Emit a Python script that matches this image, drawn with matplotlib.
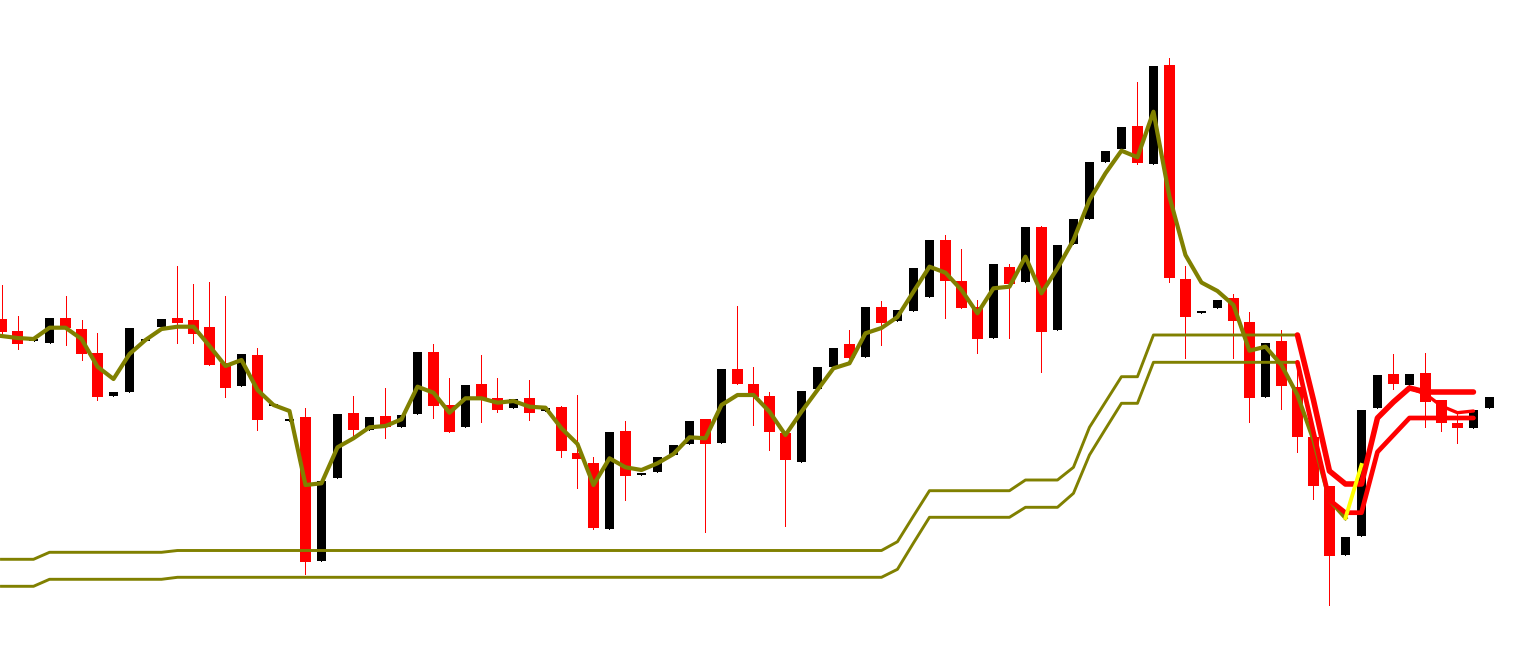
import matplotlib
matplotlib.use("Agg")
import matplotlib.pyplot as plt
import numpy as np

# ---- candle data (arbitrary price units) ----
opens = [327, 315, 305, 303, 328, 317, 293, 250, 254, 305,
         319, 328, 326, 319, 283, 260, 291, 240, 225, 229,
         85, 168, 233, 216, 230, 219, 232, 294, 241, 219,
         262, 248, 238, 248, 235, 239, 193, 183, 117, 215,
         171.5, 174, 191, 202, 227, 203, 277, 262, 250, 213,
         184, 257, 279, 302, 289, 339, 325, 335, 349, 406,
         365, 339, 308, 379, 364, 419, 316, 402, 427, 484,
         497, 520, 482, 581, 367, 333, 338, 348, 324, 249,
         305, 259, 209, 160, 91, 110, 238, 272, 261, 273,
         246, 223, 218, 238]
closes = [314, 302, 307, 328, 318, 292, 249, 254, 318, 307,
          327, 323, 312, 281, 258, 292, 226, 242, 227, 84,
          165, 232, 216, 229, 219, 231, 294, 240, 214, 261,
          248, 236, 247, 233, 238, 195, 187, 118, 214, 170,
          173, 189, 201, 225, 202, 277, 262, 249, 214, 186,
          255, 279, 298, 288, 339, 323, 336, 378, 406, 365,
          338, 307, 382, 362, 419, 314, 401, 427, 484, 495,
          519, 483, 580, 368, 329, 335, 346, 325, 248, 303,
          260, 209, 160, 90, 109, 236, 271, 262, 272, 244,
          223, 218, 236, 249]
highs = [361, 330, 307, 328, 350, 326, 313, 254, 318, 307,
         327, 380, 362, 364, 350, 292, 298, 242, 227, 238,
         165, 232, 250, 229, 258, 231, 294, 302, 268, 261,
         291, 268, 247, 266, 238, 240, 251, 189, 214, 225,
         173, 189, 201, 225, 227, 277, 340, 279, 254, 214,
         255, 279, 298, 316, 339, 345, 336, 378, 406, 411,
         397, 346, 382, 382, 419, 420, 401, 427, 484, 495,
         519, 564, 580, 588, 380, 335, 346, 352, 334, 303,
         316, 284, 209, 160, 109, 236, 271, 292, 272, 293,
         246, 233, 236, 249]
lows = [311, 297, 305, 303, 301, 286, 246, 250, 254, 305,
        319, 303, 303, 281, 249, 260, 216, 240, 225, 72,
        85, 168, 209, 216, 208, 219, 232, 228, 214, 219,
        224, 234, 238, 226, 235, 189, 158, 117, 117, 146,
        171.5, 174, 191, 202, 114, 203, 262, 221, 196, 120,
        184, 257, 279, 288, 289, 301, 325, 335, 349, 328,
        338, 293, 308, 308, 364, 274, 316, 402, 427, 484,
        497, 482, 482, 364, 288, 333, 338, 288, 224, 249,
        237, 194, 147, 41, 91, 110, 238, 257, 261, 219,
        215, 203, 218, 238]

# moving average (indices 0..84)
ma = [310, 308, 307, 318.3, 318.3, 307, 279.3, 267, 292, 306,
      317, 319.3, 319.3, 300, 280, 286, 256, 241, 235, 161,
      162.7, 198.7, 207.7, 218.7, 220, 226.7, 259.3, 253.3, 233.3, 247.7,
      247.7, 243.3, 245, 239.3, 238.3, 217.7, 202, 161, 187.7, 178.7,
      176, 182.7, 192, 208.7, 207.7, 241, 251, 251, 234.3, 211,
      234.3, 256, 277.7, 282.7, 312.7, 318, 329, 354.3, 379.3, 373.3,
      356, 332.7, 357.7, 359.3, 389.3, 352.7, 377.7, 406, 446, 472.7,
      495.3, 488.7, 534.3, 449.3, 391, 363.5, 355, 341, 295.3, 299.3,
      281, 251, 206, 146, 128]

# envelope (indices 0..81)
env_upper = [86.7] * 3 + [93.7] * 8 + [95.5] * 45 + [104.3, 130] + [155.3] * 6 \
    + [166] * 3 + [178.7, 218.7, 244, 269.3, 269.3] + [311] * 10
env_lower = [59.7] * 3 + [66.7] * 8 + [68.7] * 45 + [76.7, 103] + [128.7] * 6 \
    + [138.7] * 3 + [152.7, 191, 217, 242.7, 242.7] + [283.7] * 10

# projection lines (indices 81..92)
proj_start = 81
proj_a = [311, 246, 175, 162, 162, 228, 244, 258, 254, 254, 254, 254]
proj_b = [283.7, 214, 146, 133.3, 133.3, 194, 211, 228, 228, 228, 228, 228]
proj_c = [311, 246, 175, 162, 162, 228, 244, 258, 252, 240, 233.3, 235]
# yellow segment (indices 84..85)
yellow_start = 84
yellow = [128, 181]

# ---- figure ----
fig = plt.figure(figsize=(15.4, 6.46), dpi=100)
ax = fig.add_axes([0, 0, 1, 1])
ax.set_xlim(-0.094, 96.16)
ax.set_ylim(0, 646)
ax.axis("off")

n = len(opens)
x = np.arange(n)
o = np.array(opens, float)
c = np.array(closes, float)
h = np.array(highs, float)
l = np.array(lows, float)
bull = c >= o

# wicks
for i in range(n):
    col = "black" if bull[i] else "red"
    ax.vlines(x[i], l[i], h[i], color=col, linewidth=0.55, zorder=1,
              antialiased=False)

# bodies
bot = np.minimum(o, c)
hgt = np.maximum(np.abs(c - o), 1.6)
ax.bar(x[bull], hgt[bull], bottom=bot[bull], width=0.56, color="black",
       linewidth=0, zorder=2, antialiased=False)
ax.bar(x[~bull], hgt[~bull], bottom=bot[~bull], width=0.67, color="red",
       linewidth=0, zorder=2, antialiased=False)

olive = "#808000"
ax.plot(np.arange(len(env_upper)), env_upper, color=olive, lw=2.1, zorder=3)
ax.plot(np.arange(len(env_lower)), env_lower, color=olive, lw=2.1, zorder=3)
ax.plot(np.arange(len(ma)), ma, color=olive, lw=3.0, zorder=4,
        solid_joinstyle="round")

px = np.arange(proj_start, proj_start + len(proj_a))
ax.plot(px, proj_c, color="red", lw=2.4, zorder=5, solid_capstyle="round")
ax.plot(px, proj_b, color="red", lw=3.4, zorder=5, solid_capstyle="round")
ax.plot(px, proj_a, color="red", lw=4.0, zorder=5, solid_capstyle="round")

ax.plot(np.arange(yellow_start, yellow_start + len(yellow)), yellow,
        color="#FFFF00", lw=2.8, zorder=6)

fig.savefig("out.png", dpi=100, facecolor="white")
